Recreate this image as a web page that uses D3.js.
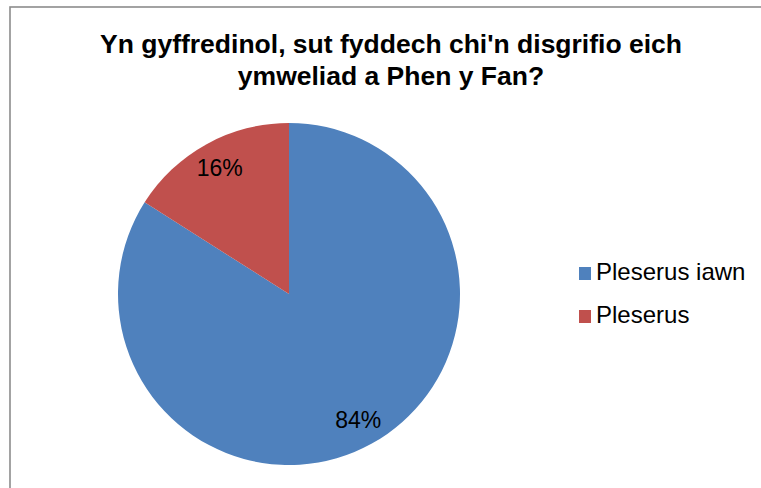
<!DOCTYPE html>
<html><head><meta charset="utf-8">
<script src="https://cdn.jsdelivr.net/npm/d3@7"></script>
<style>body{margin:0;background:#fff}svg{display:block}</style>
</head><body>
<script>
const titleLines = ["Yn gyffredinol, sut fyddech chi'n disgrifio eich", "ymweliad a Phen y Fan?"];
const categories = ["Pleserus iawn", "Pleserus"];
const values = [84, 16];
const colors = ["#4F81BD", "#C0504D"];

const W = 761, H = 488;
const svg = d3.select("body").append("svg").attr("width", W).attr("height", H);
svg.append("rect").attr("x", 10).attr("y", 7).attr("width", W + 10).attr("height", H + 10)
  .attr("fill", "#fff").attr("stroke", "#8c8c8c").attr("stroke-width", 1.6);

const font = "'Liberation Sans', Arial, sans-serif";
svg.append("g").selectAll("text").data(titleLines).join("text")
  .attr("x", 391).attr("y", (d, i) => 53 + i * 32)
  .attr("text-anchor", "middle").attr("font-family", font)
  .attr("font-weight", "bold").attr("font-size", 26.5).attr("fill", "#000").text(d => d);

const cx = 289, cy = 294, r = 171;
const pie = d3.pie().sort(null).value(d => d.v);
const data = pie(values.map((v, i) => ({v, c: categories[i], col: colors[i]})));
const arc = d3.arc().innerRadius(0).outerRadius(r);
const g = svg.append("g").attr("transform", `translate(${cx},${cy})`);
g.selectAll("path").data(data).join("path").attr("d", arc).attr("fill", d => d.data.col);
const labelArc = d3.arc().innerRadius(r * 0.84).outerRadius(r * 0.84);
g.selectAll("text").data(data).join("text")
  .attr("transform", d => `translate(${labelArc.centroid(d)})`)
  .attr("text-anchor", "middle").attr("dy", "0.35em")
  .attr("font-family", font).attr("font-size", 23).attr("fill", "#000")
  .text(d => d.data.v + "%");

const lg = svg.append("g").selectAll("g").data(categories).join("g")
  .attr("transform", (d, i) => `translate(579, ${280 + i * 43})`);
lg.append("rect").attr("x", 0).attr("y", -13).attr("width", 12).attr("height", 13)
  .attr("fill", (d, i) => colors[i]);
lg.append("text").attr("x", 17).attr("font-family", font)
  .attr("font-size", 24).attr("fill", "#000").text(d => d);
</script>
</body></html>
